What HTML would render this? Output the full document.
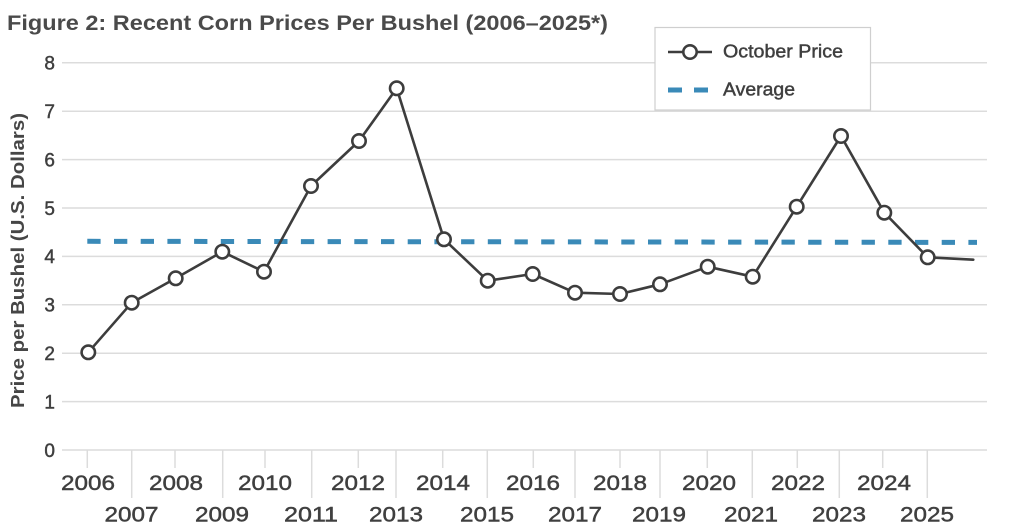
<!DOCTYPE html>
<html>
<head>
<meta charset="utf-8">
<style>
html,body{margin:0;padding:0;background:#fff;}
svg{display:block;}
text{font-family:"Liberation Sans",Arial,sans-serif;fill:#3f3f3f;}
.m{stroke:#3f3f3f;stroke-width:0.45px;}
</style>
</head>
<body>
<svg width="1024" height="532" viewBox="0 0 1024 532" xmlns="http://www.w3.org/2000/svg">
  <!-- Title -->
  <text x="7" y="30" font-size="21" font-weight="bold" textLength="601" lengthAdjust="spacingAndGlyphs" style="fill:#4a4a4a">Figure 2: Recent Corn Prices Per Bushel (2006–2025*)</text>

  <!-- Gridlines -->
  <g stroke="#dcdcdc" stroke-width="1.5">
    <line x1="62" y1="62.8" x2="987" y2="62.8"/>
    <line x1="62" y1="111.2" x2="987" y2="111.2"/>
    <line x1="62" y1="159.6" x2="987" y2="159.6"/>
    <line x1="62" y1="208" x2="987" y2="208"/>
    <line x1="62" y1="256.4" x2="987" y2="256.4"/>
    <line x1="62" y1="304.8" x2="987" y2="304.8"/>
    <line x1="62" y1="353.2" x2="987" y2="353.2"/>
    <line x1="62" y1="401.6" x2="987" y2="401.6"/>
    <line x1="62" y1="450" x2="987" y2="450"/>
  </g>

  <!-- X ticks -->
  <g stroke="#dcdcdc" stroke-width="1.5">
    <line x1="87.3" y1="450" x2="87.3" y2="468"/>
    <line x1="131.7" y1="450" x2="131.7" y2="498"/>
    <line x1="175" y1="450" x2="175" y2="468"/>
    <line x1="222.7" y1="450" x2="222.7" y2="498"/>
    <line x1="265" y1="450" x2="265" y2="468"/>
    <line x1="311.7" y1="450" x2="311.7" y2="498"/>
    <line x1="358.3" y1="450" x2="358.3" y2="468"/>
    <line x1="396" y1="450" x2="396" y2="498"/>
    <line x1="442.7" y1="450" x2="442.7" y2="468"/>
    <line x1="487.3" y1="450" x2="487.3" y2="498"/>
    <line x1="533.3" y1="450" x2="533.3" y2="468"/>
    <line x1="575" y1="450" x2="575" y2="498"/>
    <line x1="620" y1="450" x2="620" y2="468"/>
    <line x1="660" y1="450" x2="660" y2="498"/>
    <line x1="707.3" y1="450" x2="707.3" y2="468"/>
    <line x1="752.3" y1="450" x2="752.3" y2="498"/>
    <line x1="797.3" y1="450" x2="797.3" y2="468"/>
    <line x1="839.3" y1="450" x2="839.3" y2="498"/>
    <line x1="882.7" y1="450" x2="882.7" y2="468"/>
    <line x1="927.3" y1="450" x2="927.3" y2="498"/>
  </g>

  <!-- Y tick labels -->
  <g font-size="19" text-anchor="end" class="m">
    <text x="55" y="69.5">8</text>
    <text x="55" y="118">7</text>
    <text x="55" y="166.4">6</text>
    <text x="55" y="214.8">5</text>
    <text x="55" y="263.2">4</text>
    <text x="55" y="311.6">3</text>
    <text x="55" y="360">2</text>
    <text x="55" y="408.4">1</text>
    <text x="55" y="456.8">0</text>
  </g>

  <!-- X tick labels -->
  <g font-size="21" text-anchor="middle" class="m">
    <text x="88" y="490" textLength="54" lengthAdjust="spacingAndGlyphs">2006</text>
    <text x="176" y="490" textLength="54" lengthAdjust="spacingAndGlyphs">2008</text>
    <text x="265" y="490" textLength="54" lengthAdjust="spacingAndGlyphs">2010</text>
    <text x="358" y="490" textLength="54" lengthAdjust="spacingAndGlyphs">2012</text>
    <text x="443" y="490" textLength="54" lengthAdjust="spacingAndGlyphs">2014</text>
    <text x="533" y="490" textLength="54" lengthAdjust="spacingAndGlyphs">2016</text>
    <text x="620" y="490" textLength="54" lengthAdjust="spacingAndGlyphs">2018</text>
    <text x="709" y="490" textLength="54" lengthAdjust="spacingAndGlyphs">2020</text>
    <text x="798" y="490" textLength="54" lengthAdjust="spacingAndGlyphs">2022</text>
    <text x="884" y="490" textLength="54" lengthAdjust="spacingAndGlyphs">2024</text>

    <text x="131.5" y="521.5" textLength="54" lengthAdjust="spacingAndGlyphs">2007</text>
    <text x="222" y="521.5" textLength="54" lengthAdjust="spacingAndGlyphs">2009</text>
    <text x="311" y="521.5" textLength="54" lengthAdjust="spacingAndGlyphs">2011</text>
    <text x="396" y="521.5" textLength="54" lengthAdjust="spacingAndGlyphs">2013</text>
    <text x="487" y="521.5" textLength="54" lengthAdjust="spacingAndGlyphs">2015</text>
    <text x="575" y="521.5" textLength="54" lengthAdjust="spacingAndGlyphs">2017</text>
    <text x="659" y="521.5" textLength="54" lengthAdjust="spacingAndGlyphs">2019</text>
    <text x="751" y="521.5" textLength="54" lengthAdjust="spacingAndGlyphs">2021</text>
    <text x="839" y="521.5" textLength="54" lengthAdjust="spacingAndGlyphs">2023</text>
    <text x="927" y="521.5" textLength="54" lengthAdjust="spacingAndGlyphs">2025</text>
  </g>

  <!-- Y axis title -->
  <text transform="translate(24,260.5) rotate(-90)" font-size="18" font-weight="bold" text-anchor="middle" textLength="295" lengthAdjust="spacingAndGlyphs" style="fill:#464646">Price per Bushel (U.S. Dollars)</text>

  <!-- Average dashed line -->
  <line x1="87.3" y1="241.3" x2="977" y2="242.4" stroke="#3a8ab8" stroke-width="5" stroke-dasharray="13.3 13.4"/>

  <!-- October price line -->
  <polyline fill="none" stroke="#3d3d3d" stroke-width="2.6" stroke-linejoin="round" stroke-linecap="round"
    points="88.3,352.3 131.7,302.7 175.7,278.3 222.3,251.7 264,271.7 311,186 359,141 396.7,88.3 444,239.3 487.7,280.7 532.7,274 575,292.7 620,294 660,284.3 707.7,266.7 752.7,276.7 796.7,206.7 841,136 884.3,212.7 927.7,257.3 973.3,259.7"/>

  <g fill="#fff" stroke="#3d3d3d" stroke-width="2.6">
    <circle cx="88.3" cy="352.3" r="6.7"/>
    <circle cx="131.7" cy="302.7" r="6.7"/>
    <circle cx="175.7" cy="278.3" r="6.7"/>
    <circle cx="222.3" cy="251.7" r="6.7"/>
    <circle cx="264" cy="271.7" r="6.7"/>
    <circle cx="311" cy="186" r="6.7"/>
    <circle cx="359" cy="141" r="6.7"/>
    <circle cx="396.7" cy="88.3" r="6.7"/>
    <circle cx="444" cy="239.3" r="6.7"/>
    <circle cx="487.7" cy="280.7" r="6.7"/>
    <circle cx="532.7" cy="274" r="6.7"/>
    <circle cx="575" cy="292.7" r="6.7"/>
    <circle cx="620" cy="294" r="6.7"/>
    <circle cx="660" cy="284.3" r="6.7"/>
    <circle cx="707.7" cy="266.7" r="6.7"/>
    <circle cx="752.7" cy="276.7" r="6.7"/>
    <circle cx="796.7" cy="206.7" r="6.7"/>
    <circle cx="841" cy="136" r="6.7"/>
    <circle cx="884.3" cy="212.7" r="6.7"/>
    <circle cx="927.7" cy="257.3" r="6.7"/>
  </g>

  <!-- Legend -->
  <rect x="655" y="27.5" width="215.5" height="82.5" fill="#fff" stroke="#cfcfcf" stroke-width="1.2"/>
  <line x1="668" y1="52" x2="712" y2="52" stroke="#3d3d3d" stroke-width="2.6"/>
  <circle cx="690" cy="52" r="6.7" fill="#fff" stroke="#3d3d3d" stroke-width="2.6"/>
  <text x="723" y="57.5" font-size="18" class="m" textLength="120" lengthAdjust="spacingAndGlyphs">October Price</text>
  <line x1="668" y1="90" x2="710" y2="90" stroke="#3a8ab8" stroke-width="5" stroke-dasharray="14 12"/>
  <text x="723" y="95.5" font-size="18" class="m" textLength="72" lengthAdjust="spacingAndGlyphs">Average</text>
</svg>
</body>
</html>
